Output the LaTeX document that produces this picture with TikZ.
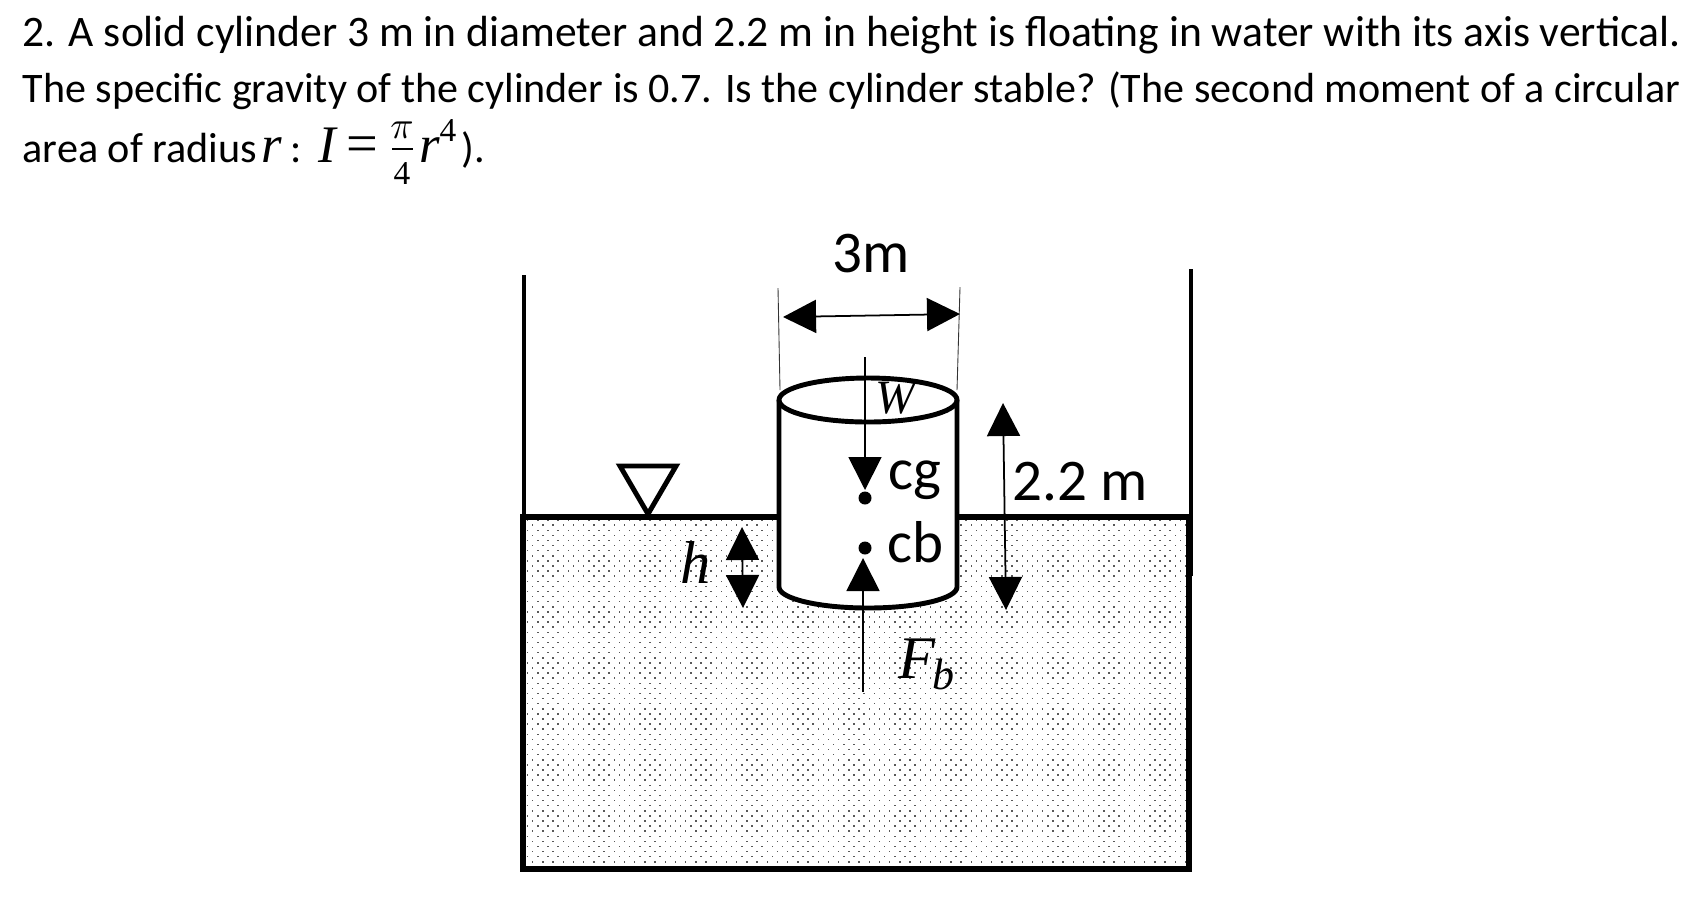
\documentclass[tikz,border=0pt]{standalone}
\usepackage{amsmath}
\usepackage{fontspec}
\setmainfont{Carlito}
\newfontfamily\serifsym{Liberation Serif}
\newcommand{\symit}[1]{{\serifsym\itshape #1}}
\newcommand{\symup}[1]{{\serifsym #1}}
\usepackage{tikz}
\usetikzlibrary{arrows.meta}

\begin{document}
\begin{tikzpicture}[x=0.01cm,y=-0.01cm,
 wall/.style={line width=1.4pt},
 dimline/.style={line width=0.5pt,{Triangle[length=0.33cm,width=0.33cm]}-{Triangle[length=0.33cm,width=0.33cm]}},
 forceline/.style={line width=0.5pt,-{Triangle[length=0.33cm,width=0.33cm]}},
 guide/.style={line width=0.25pt,black!80},
 question/.style={anchor=base west,inner sep=0pt,font=\fontsize{12}{14}\selectfont},
 tag/.style={anchor=base west,inner sep=0pt,font=\fontsize{16.8}{20}\selectfont},
 symb/.style={anchor=base west,inner sep=0pt,font=\fontsize{17.2}{20}\selectfont},
 eqsym/.style={anchor=base,inner sep=0pt,font=\fontsize{15}{17}\selectfont}]

  \useasboundingbox (0,0) rectangle (1704,908);

  \node[question,font=\fontsize{12.39}{14}\selectfont] (line1) at (22,46) {2. A solid cylinder 3 m in diameter and 2.2 m in height is floating in water with its axis vertical.};
  \node[question,font=\fontsize{11.96}{14}\selectfont] (line2) at (22,102) {The specific gravity of the cylinder is 0.7. Is the cylinder stable? (The second moment of a circular};

  % last line, with its formula
  \node[question] (line3) at (22,162) {area of radius};
  \node[eqsym] (eqr) at (272,162) {\symit{r}};
  \node[question] (eqcolon) at (290,162) {:};
  \node[eqsym] (eqi) at (327,162) {\symit{I}};
  \node[eqsym,font=\fontsize{16}{18}\selectfont] (eqeq) at (362,162) {\symup{=}};
  \node[eqsym,font=\fontsize{11}{13}\selectfont] (eqpi) at (402,138) {\symit{$\pi$}};
  \node[eqsym,font=\fontsize{9.5}{12}\selectfont] (eqfour) at (402,184) {\symup{4}};
  \draw[line width=0.5pt] (392,149) -- (413,149);
  \node[eqsym] (eqr2) at (430,162) {\symit{r}};
  \node[eqsym,font=\fontsize{9.5}{12}\selectfont] (eqsup) at (448,141) {\symup{4}};
  \node[question] (eqend) at (461,162) {).};

  % water
  \foreach \row [evaluate=\row as \rowy using 520.1+5.1*\row,
                 evaluate=\row as \rowx using {527.6+5.1*mod(\row,2)}] in {0,...,68}
    \foreach \col in {0,...,64}
      \fill[black!65] (\rowx+10.2*\col-0.75,\rowy-0.75) rectangle +(1.5,1.5);
  \draw[wall] (524,275) -- (524,517);
  \draw[wall] (1191,269) -- (1191,576);
  \draw[line width=1.5pt] (523,517) rectangle (1189,869);

  % free surface mark
  \draw[wall,fill=white,line join=miter] (620,466) -- (676,466) -- (648,514) -- cycle;

  % cylinder
  \filldraw[wall,fill=white] (779,400) -- (779,587) arc[start angle=180,end angle=0,x radius=89,y radius=21] -- (957,400);
  \draw[wall] (868,400) ellipse [x radius=89,y radius=22];

  \coordinate (gl1) at (778,288);
  \coordinate (gl2) at (780,390);
  \coordinate (gr1) at (960,287);
  \coordinate (gr2) at (957,390);
  \draw[guide] (gl1) -- (gl2);
  \draw[guide] (gr1) -- (gr2);

  \coordinate (dia1) at (783,317);
  \coordinate (dia2) at (960,314);
  \draw[dimline] (dia1) -- (dia2);

  \coordinate (ht1) at (1003,403);
  \coordinate (ht2) at (1006,610);
  \draw[dimline] (ht1) -- (ht2);

  \coordinate (sub1) at (742,527);
  \coordinate (sub2) at (743,608);
  \draw[dimline] (sub1) -- (sub2);

  \node[circle,fill=black,inner sep=0pt,minimum size=0.13cm] (cg) at (865,498) {};
  \node[circle,fill=black,inner sep=0pt,minimum size=0.13cm] (cb) at (865,548) {};

  \coordinate (wtop) at (865,357);
  \coordinate (fbot) at (863,692);
  \draw[forceline] (wtop) -- (865,490);
  \draw[forceline] (fbot) -- (863,558);

  \node[tag] (dialabel) at (832,272) {3m};
  \node[tag] (cglabel) at (888,489) {cg};
  \node[tag] (cblabel) at (887,562) {cb};
  \node[tag] (htlabel) at (1012,500) {2.2 m};
  \node[symb,font=\fontsize{13.6}{16}\selectfont] (wlabel) at (875,413) {\symit{W}};
  \node[symb] (fblabel) at (898,678) {\symit{F}\kern-0.03cm\raisebox{-0.11cm}{\fontsize{12.5}{15}\selectfont\symit{b}}};
  \node[symb] (hlabel) at (680,583) {\symit{h}};
\end{tikzpicture}
\end{document}
